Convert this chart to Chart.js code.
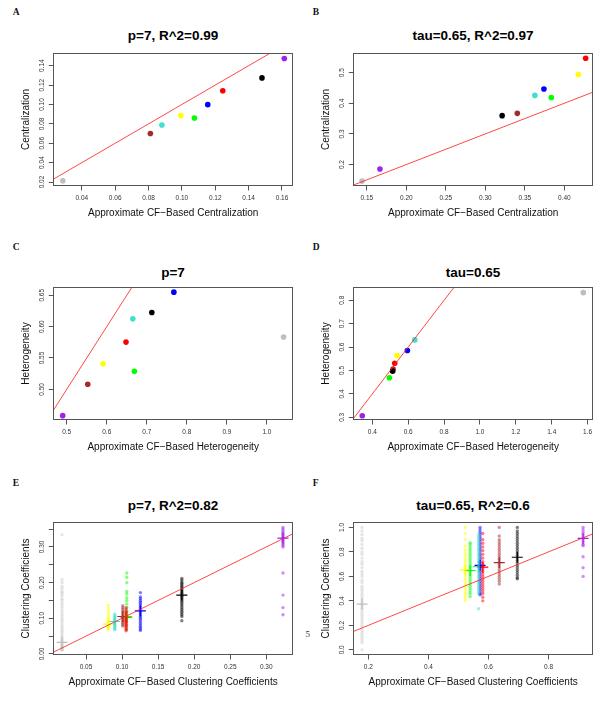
<!DOCTYPE html>
<html><head><meta charset="utf-8">
<script src="https://cdn.jsdelivr.net/npm/chart.js@4"></script>
<style>
body{margin:0;background:#fff;width:600px;height:706px;position:relative;overflow:hidden;font-family:"Liberation Sans",Arial,sans-serif}
canvas{position:absolute}
.ttl{position:absolute;text-align:center;font-weight:bold;font-size:13.5px;line-height:16px;color:#000;white-space:nowrap}
.lt{position:absolute;font-family:"Liberation Serif","DejaVu Serif",serif;font-weight:bold;font-size:9.5px;line-height:10px;color:#111}
.pg{position:absolute;font-family:"Liberation Serif","DejaVu Serif",serif;font-size:9px;line-height:10px;color:#333}
</style></head><body>
<div class="lt" style="left:12.7px;top:7px">A</div>
<div class="lt" style="left:312.7px;top:7px">B</div>
<div class="lt" style="left:12.7px;top:242px">C</div>
<div class="lt" style="left:312.7px;top:242px">D</div>
<div class="lt" style="left:12.7px;top:478px">E</div>
<div class="lt" style="left:312.7px;top:478px">F</div>
<div class="pg" style="left:305.5px;top:629px">5</div>
<div class="ttl" style="left:53px;width:240px;top:28px">p=7, R^2=0.99</div>
<div class="ttl" style="left:353px;width:240px;top:28px">tau=0.65, R^2=0.97</div>
<div class="ttl" style="left:53px;width:240px;top:265px">p=7</div>
<div class="ttl" style="left:353px;width:240px;top:265px">tau=0.65</div>
<div class="ttl" style="left:53px;width:240px;top:498px">p=7, R^2=0.82</div>
<div class="ttl" style="left:353px;width:240px;top:498px">tau=0.65, R^2=0.6</div>
<canvas id="cA" width="300" height="179" style="left:0;top:45px"></canvas>
<canvas id="cB" width="300" height="179" style="left:300px;top:45px"></canvas>
<canvas id="cC" width="300" height="179" style="left:0;top:279px"></canvas>
<canvas id="cD" width="300" height="179" style="left:300px;top:279px"></canvas>
<canvas id="cE" width="300" height="179" style="left:0;top:514px"></canvas>
<canvas id="cF" width="300" height="179" style="left:300px;top:514px"></canvas>
<script>
// ---------- data ----------
const groupNames = ['gray','yellow','turquoise','brown','red','green','blue','black','purple'];
const groupColors = ['#BEBEBE','#FFFF00','#40E0D0','#A52A2A','#FF0000','#00FF00','#0000FF','#000000','#A020F0'];

// identity reference line (y = x)
const refLine = [-1, 3];

// Panel A : centralization, p=7
const aX = [0.0286, 0.0994, 0.0880, 0.0811, 0.1245, 0.1075, 0.1155, 0.1480, 0.1614];
const aY = [0.0213, 0.0885, 0.0789, 0.0701, 0.1141, 0.0861, 0.0998, 0.1274, 0.1475];
const aXRange = [0.0229, 0.1666];
const aYRange = [0.0159, 0.1531];
const aXTicks = ['0.04','0.06','0.08','0.10','0.12','0.14','0.16'];
const aYTicks = ['0.02','0.04','0.06','0.08','0.10','0.12','0.14'];

// Panel B : centralization, tau=0.65
const bX = [0.1440, 0.4177, 0.3627, 0.3405, 0.4270, 0.3835, 0.3742, 0.3213, 0.1666];
const bY = [0.1460, 0.4940, 0.4257, 0.3670, 0.5470, 0.4190, 0.4463, 0.3596, 0.1857];
const bXRange = [0.1329, 0.4363];
const bYRange = [0.1300, 0.5640];
const bXTicks = ['0.15','0.20','0.25','0.30','0.35','0.40'];
const bYTicks = ['0.2','0.3','0.4','0.5'];

// Panel C : heterogeneity, p=7
const cX = [1.0415, 0.5908, 0.6650, 0.5525, 0.6480, 0.6690, 0.7675, 0.7125, 0.4900];
const cY = [0.5833, 0.5408, 0.6124, 0.5080, 0.5753, 0.5287, 0.6550, 0.6226, 0.4580];
const cXRange = [0.4665, 1.0650];
const cYRange = [0.4511, 0.6632];
const cXTicks = ['0.5','0.6','0.7','0.8','0.9','1.0'];
const cYTicks = ['0.50','0.55','0.60','0.65'];

// Panel D : heterogeneity, tau=0.65
const dX = [1.5760, 0.5379, 0.6367, 0.5155, 0.5250, 0.4949, 0.5954, 0.5135, 0.3440];
const dY = [0.8326, 0.5642, 0.6307, 0.5058, 0.5310, 0.4687, 0.5855, 0.4973, 0.3068];
const dXRange = [0.2940, 1.6300];
const dYRange = [0.2885, 0.8567];
const dXTicks = ['0.4','0.6','0.8','1.0','1.2','1.4','1.6'];
const dYTicks = ['0.3','0.4','0.5','0.6','0.7','0.8'];

// Panel E : clustering coefficients, p=7
const eX = [0.0167, 0.0810, 0.0899, 0.1010, 0.1056, 0.1065, 0.1254, 0.1829, 0.3232];
const eMean = [0.0325, 0.0836, 0.0910, 0.1050, 0.1030, 0.1040, 0.1207, 0.1650, 0.3250];
const eGray = [0.334,0.208,0.200,0.190,0.183,0.175,0.170,0.163,0.155,0.150,0.143,0.137,0.130,0.122,0.115,0.108,0.100,0.093,0.087,0.080,0.074,0.068,0.062,0.056,0.050,0.045,0.040,0.036,0.032,0.028,0.025,0.022,0.019,0.016,0.014,0.012,0.010];
const eYellow = [0.137,0.128,0.120,0.112,0.105,0.100,0.095,0.090,0.087,0.084,0.081,0.078,0.075,0.072,0.070];
const eTurq = [0.112,0.108,0.104,0.100,0.097,0.094,0.091,0.088,0.085,0.082,0.079,0.076,0.073,0.070,0.068];
const eBrown = [0.135,0.130,0.125,0.120,0.115,0.110,0.106,0.102,0.098,0.094,0.090,0.086,0.082,0.078];
const eRed = [0.130,0.125,0.120,0.116,0.112,0.108,0.104,0.100,0.097,0.094,0.091,0.088,0.085,0.082,0.079,0.076,0.072,0.068,0.065];
const eGreen = [0.227,0.215,0.200,0.175,0.168,0.158,0.150,0.140,0.130,0.120,0.110,0.100,0.090,0.080,0.070];
const eBlue = [0.172,0.160,0.155,0.150,0.145,0.140,0.135,0.130,0.125,0.120,0.115,0.110,0.105,0.100,0.095,0.090,0.085,0.080,0.075,0.070,0.066];
const eBlack = [0.212,0.207,0.202,0.198,0.194,0.190,0.186,0.182,0.178,0.174,0.170,0.166,0.162,0.158,0.154,0.150,0.145,0.140,0.135,0.130,0.125,0.120,0.115,0.110,0.105,0.093];
const ePurple = [0.355,0.350,0.345,0.340,0.336,0.332,0.328,0.324,0.320,0.316,0.312,0.308,0.304,0.300,0.227,0.165,0.130,0.110];
const eXRange = [0.0046, 0.3371];
const eYRange = [-0.003, 0.370];
const eXTicks = ['0.05','0.10','0.15','0.20','0.25','0.30'];
const eYTickValues = [0.00,0.05,0.10,0.15,0.20,0.25,0.30,0.35];
const eYTickLabels = ['0.00','','0.10','','0.20','','0.30',''];

// Panel F : clustering coefficients, tau=0.65
const fX = [0.179, 0.523, 0.567, 0.636, 0.581, 0.539, 0.572, 0.696, 0.915];
const fMean = [0.374, 0.653, 0.680, 0.713, 0.675, 0.648, 0.690, 0.756, 0.910];
const fGray = [1.00,0.97,0.94,0.91,0.89,0.86,0.83,0.80,0.78,0.75,0.72,0.70,0.67,0.64,0.62,0.60,0.57,0.55,0.52,0.50,0.48,0.46,0.44,0.42,0.40,0.38,0.36,0.34,0.32,0.30,0.28,0.26,0.24,0.22,0.20,0.18,0.16,0.14,0.12,0.10,0.08,0.06,0.00];
const fYellow = [1.00,0.95,0.90,0.85,0.82,0.80,0.78,0.76,0.74,0.72,0.70,0.68,0.66,0.64,0.62,0.60,0.58,0.56,0.54,0.52,0.50,0.48,0.46,0.44,0.42,0.40];
const fTurq = [0.94,0.92,0.90,0.88,0.86,0.84,0.82,0.80,0.78,0.76,0.74,0.72,0.70,0.68,0.66,0.64,0.62,0.60,0.58,0.56,0.54,0.52,0.50,0.48,0.46,0.336];
const fBrown = [1.00,0.93,0.90,0.88,0.86,0.84,0.82,0.80,0.78,0.76,0.74,0.72,0.70,0.68,0.66,0.64,0.62,0.60,0.58,0.56,0.537];
const fRed = [0.95,0.90,0.87,0.84,0.81,0.78,0.75,0.72,0.70,0.68,0.66,0.64,0.62,0.60,0.58,0.56,0.54,0.52,0.50,0.48,0.46,0.43,0.40];
const fGreen = [0.875,0.86,0.84,0.82,0.80,0.78,0.76,0.74,0.72,0.70,0.68,0.66,0.64,0.62,0.60,0.58,0.56,0.54,0.52,0.50,0.48,0.46,0.436];
const fBlue = [1.00,0.98,0.96,0.94,0.92,0.90,0.88,0.86,0.84,0.82,0.80,0.78,0.76,0.74,0.72,0.70,0.68,0.66,0.64,0.62,0.60,0.58,0.56,0.54,0.52,0.50,0.48,0.46,0.45];
const fBlack = [1.00,0.97,0.95,0.93,0.91,0.89,0.87,0.85,0.83,0.81,0.79,0.77,0.75,0.73,0.71,0.69,0.67,0.65,0.63,0.61,0.59,0.58];
const fPurple = [1.00,0.98,0.96,0.94,0.92,0.90,0.88,0.86,0.85,0.76,0.67,0.60];
const fXRange = [0.150, 0.948];
const fYRange = [-0.042, 1.044];
const fXTicks = ['0.2','0.4','0.6','0.8'];
const fYTicks = ['0.0','0.2','0.4','0.6','0.8','1.0'];

// ---------- drawing ----------
const FONT = '"Liberation Sans", Arial, Helvetica, sans-serif';
Chart.defaults.font.family = FONT;
const TICK_FONT = 6.5, TICK_LEN = 4.5;

function rgba(hex, a){
  const n = parseInt(hex.slice(1),16);
  return `rgba(${(n>>16)&255},${(n>>8)&255},${n&255},${a})`;
}
const mctx = document.createElement('canvas').getContext('2d');
function widest(labels){
  mctx.font = `normal ${TICK_FONT}px ${FONT}`;
  return Math.max(...labels.map(l => mctx.measureText(l).width));
}

const boxPlugin = {
  id:'plotbox',
  afterDraw(chart){
    const {ctx, chartArea:a} = chart;
    ctx.save();
    ctx.strokeStyle = '#555';
    ctx.lineWidth = 1;
    const l = Math.round(a.left)+0.5, t = Math.round(a.top)+0.5;
    const r = Math.round(a.right)-0.5, b = Math.round(a.bottom)-0.5;
    ctx.strokeRect(l, t, r-l, b-t);
    ctx.restore();
  }
};

function lineDataset(){
  return {type:'line', data: refLine.map(v => ({x:v, y:v})), borderColor:'rgba(255,40,40,0.85)',
          borderWidth:1, pointRadius:0, fill:false, clip:0, order:0};
}

function pointDatasets(xs, ys){
  return [{type:'scatter', data: xs.map((x,i)=>({x, y:ys[i]})),
    backgroundColor: groupColors, pointBackgroundColor: groupColors,
    borderWidth:0, pointBorderWidth:0, pointRadius:2.8, clip:false}];
}

function stripDatasets(xs, lists, means){
  const ds = [];
  lists.forEach((ys,i) => {
    ds.push({type:'scatter', data: ys.map(y => ({x:xs[i], y})),
      pointBackgroundColor: rgba(groupColors[i], i===0 ? 0.4 : 0.5),
      pointBorderWidth:0, pointRadius:1.7, clip:false});
  });
  ds.push({type:'scatter', data: xs.map((x,i)=>({x, y:means[i]})),
    pointStyle:'cross', pointRadius:5.5, pointBorderWidth:1.2,
    pointBorderColor: groupColors, pointBackgroundColor: groupColors, clip:false});
  return ds;
}

function makePanel(id, o){
  const xVals = o.xTicks.map(Number);
  const yVals = o.yTickValues || o.yTicks.map(Number);
  const yLabels = o.yTickLabels || o.yTicks;
  const yPad = 10.8 - TICK_LEN - widest(yLabels)/2;
  new Chart(document.getElementById(id), {
    type:'scatter',
    data:{datasets: [lineDataset(), ...o.datasets]},
    options:{
      animation:false, responsive:false, events:[],
      layout:{padding:{top:8, right:7, left:0, bottom:0}},
      plugins:{legend:{display:false}, tooltip:{enabled:false}, title:{display:false}},
      scales:{
        x:{type:'linear', min:o.xRange[0], max:o.xRange[1],
          afterBuildTicks: s => { s.ticks = xVals.map(v => ({value:v})); },
          afterFit: s => { s.height = 38; },
          ticks:{autoSkip:false, minRotation:0, maxRotation:0, padding:4.1,
            font:{size:TICK_FONT}, color:'#333', callback:(v,i)=>o.xTicks[i]},
          grid:{drawOnChartArea:false, drawTicks:true, tickLength:TICK_LEN, color:'#555', lineWidth:1},
          border:{display:false},
          title:{display:true, text:o.xTitle, color:'#111', font:{size:10}, padding:{top:0, bottom:4.7}}
        },
        y:{type:'linear', min:o.yRange[0], max:o.yRange[1],
          afterBuildTicks: s => { s.ticks = yVals.map(v => ({value:v})); },
          afterFit: s => { s.width = 53.3; },
          ticks:{autoSkip:false, minRotation:90, maxRotation:90, crossAlign:'center', padding:yPad,
            font:{size:TICK_FONT}, color:'#333', callback:(v,i)=>yLabels[i]},
          grid:{drawOnChartArea:false, drawTicks:true, tickLength:TICK_LEN, color:'#555', lineWidth:1},
          border:{display:false},
          title:{display:true, text:o.yTitle, color:'#111', font:{size:10}, padding:{top:20, bottom:0}}
        }
      }
    },
    plugins:[boxPlugin]
  });
}

makePanel('cA', {datasets: pointDatasets(aX, aY), xRange:aXRange, yRange:aYRange, xTicks:aXTicks, yTicks:aYTicks,
  xTitle:'Approximate CF\u2212Based Centralization', yTitle:'Centralization'});
makePanel('cB', {datasets: pointDatasets(bX, bY), xRange:bXRange, yRange:bYRange, xTicks:bXTicks, yTicks:bYTicks,
  xTitle:'Approximate CF\u2212Based Centralization', yTitle:'Centralization'});
makePanel('cC', {datasets: pointDatasets(cX, cY), xRange:cXRange, yRange:cYRange, xTicks:cXTicks, yTicks:cYTicks,
  xTitle:'Approximate CF\u2212Based Heterogeneity', yTitle:'Heterogeneity'});
makePanel('cD', {datasets: pointDatasets(dX, dY), xRange:dXRange, yRange:dYRange, xTicks:dXTicks, yTicks:dYTicks,
  xTitle:'Approximate CF\u2212Based Heterogeneity', yTitle:'Heterogeneity'});
makePanel('cE', {datasets: stripDatasets(eX, [eGray,eYellow,eTurq,eBrown,eRed,eGreen,eBlue,eBlack,ePurple], eMean),
  xRange:eXRange, yRange:eYRange, xTicks:eXTicks, yTickValues:eYTickValues, yTickLabels:eYTickLabels,
  xTitle:'Approximate CF\u2212Based Clustering Coefficients', yTitle:'Clustering Coefficients'});
makePanel('cF', {datasets: stripDatasets(fX, [fGray,fYellow,fTurq,fBrown,fRed,fGreen,fBlue,fBlack,fPurple], fMean),
  xRange:fXRange, yRange:fYRange, xTicks:fXTicks, yTicks:fYTicks,
  xTitle:'Approximate CF\u2212Based Clustering Coefficients', yTitle:'Clustering Coefficients'});
</script>
</body></html>
